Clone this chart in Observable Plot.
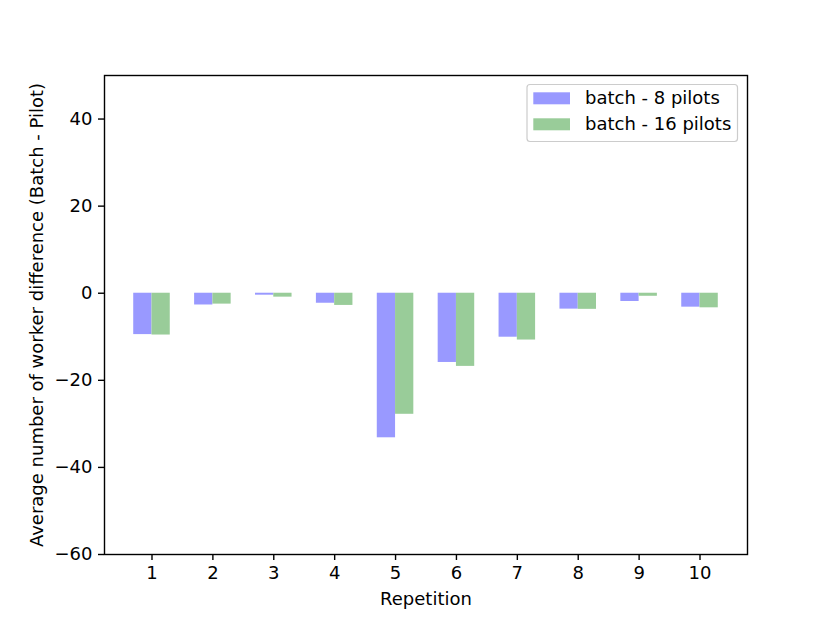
<!DOCTYPE html>
<html>
<head>
<meta charset="utf-8">
<script src="https://cdn.jsdelivr.net/npm/d3@7"></script>
<script src="https://cdn.jsdelivr.net/npm/@observablehq/plot@0.6"></script>
<style>
  html, body { margin: 0; padding: 0; background: #fff; }
  #chart { width: 830px; height: 623px; }
</style>
</head>
<body>
<div id="chart"></div>
<script>
// ---- data ----
const repetitions = [1, 2, 3, 4, 5, 6, 7, 8, 9, 10];
const batch8 = [-9.5, -2.7, -0.45, -2.3, -33.2, -15.9, -10.1, -3.65, -1.9, -3.2];
const batch16 = [-9.6, -2.5, -0.9, -2.8, -27.8, -16.8, -10.75, -3.7, -0.7, -3.35];
const seriesNames = ["batch - 8 pilots", "batch - 16 pilots"];
const seriesColors = ["#9999ff", "#99cc99"];
const yTicks = [-60, -40, -20, 0, 20, 40];
const barWidth = 0.3;

const rows = [];
repetitions.forEach((r, i) => {
  rows.push({rep: r, series: seriesNames[0], x1: r - barWidth, x2: r, value: batch8[i]});
  rows.push({rep: r, series: seriesNames[1], x1: r, x2: r + barWidth, value: batch16[i]});
});

const font = "'DejaVu Sans', sans-serif";
const chart = Plot.plot({
  width: 830,
  height: 623,
  marginLeft: 104,
  marginRight: 83,
  marginTop: 75,
  marginBottom: 69,
  style: {fontFamily: font, fontSize: "18px", color: "#000", background: "#fff"},
  x: {domain: [0.22, 10.78]},
  y: {domain: [-60, 50]},
  color: {domain: seriesNames, range: seriesColors},
  marks: [
    Plot.rectY(rows, {x1: "x1", x2: "x2", y1: 0, y2: "value", fill: "series"}),
    Plot.frame({stroke: "#000", strokeWidth: 1.4}),
    Plot.axisX({ticks: repetitions, tickFormat: d => String(d), tickSize: 6, tickPadding: 6,
      strokeWidth: 1.4, label: "Repetition", labelAnchor: "center", labelArrow: "none", labelOffset: 50}),
    Plot.axisY({ticks: yTicks, tickSize: 6, tickPadding: 6, strokeWidth: 1.4,
      label: "Average number of worker difference (Batch - Pilot)", labelAnchor: "center",
      labelArrow: "none", labelOffset: 74})
  ]
});
document.getElementById("chart").appendChild(chart);

// ---- legend (matplotlib style, upper right inside the axes) ----
const svg = d3.select(chart);
const lg = svg.append("g").attr("font-family", font).attr("font-size", 18).attr("text-anchor", "start");
lg.append("rect")
  .attr("x", 527).attr("y", 84.5).attr("width", 210.5).attr("height", 57)
  .attr("rx", 3).attr("fill", "#fff").attr("fill-opacity", 0.8)
  .attr("stroke", "#cccccc").attr("stroke-width", 1.2);
seriesNames.forEach((name, i) => {
  const y0 = 92.3 + i * 26;
  lg.append("rect").attr("x", 533.3).attr("y", y0).attr("width", 36.7).attr("height", 12)
    .attr("fill", seriesColors[i]);
  lg.append("text").attr("x", 585).attr("y", y0 + 12).attr("fill", "#000")
    .attr("text-anchor", "start").text(name);
});
</script>
</body>
</html>
